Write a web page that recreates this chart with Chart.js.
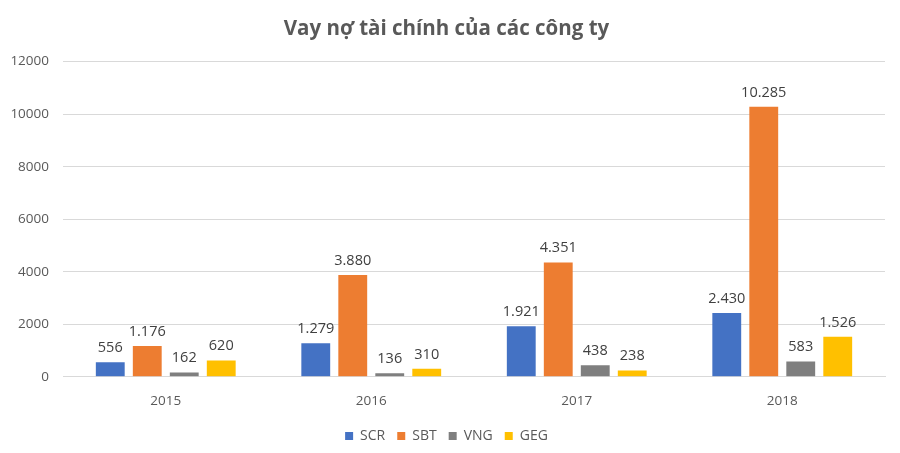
<!DOCTYPE html>
<html>
<head>
<meta charset="utf-8">
<script src="https://cdn.jsdelivr.net/npm/chart.js@4/dist/chart.umd.min.js"></script>
<style>
  html, body { margin: 0; padding: 0; background: #fff; }
  #wrap { width: 900px; height: 453px; }
</style>
</head>
<body>
<div id="wrap"><canvas id="c"></canvas></div>
<script>
const years = ['2015', '2016', '2017', '2018'];
const scr = [556, 1279, 1921, 2430];
const sbt = [1176, 3880, 4351, 10285];
const vng = [162, 136, 438, 583];
const geg = [620, 310, 238, 1526];
const yTicks = [0, 2000, 4000, 6000, 8000, 10000, 12000];

const FONT = '"Open Sans", "DejaVu Sans", sans-serif';
const TXT = '#595959';

// value labels above bars, Excel style (1.176)
const barLabels = {
    id: 'barLabels',
    afterDatasetsDraw(chart) {
        const ctx = chart.ctx;
        ctx.save();
        ctx.font = '14.5px ' + FONT;
        ctx.fillStyle = '#404040';
        ctx.textAlign = 'center';
        ctx.textBaseline = 'bottom';
        chart.data.datasets.forEach((ds, i) => {
            chart.getDatasetMeta(i).data.forEach((bar, j) => {
                ctx.fillText(ds.data[j].toLocaleString('de-DE'), bar.x, bar.y - 7);
            });
        });
        ctx.restore();
    }
};

const ds = (label, data, color) => ({
    label, data, backgroundColor: color,
    barPercentage: 0.78, categoryPercentage: 0.72
});

new Chart(document.getElementById('c'), {
    type: 'bar',
    data: {
        labels: years,
        datasets: [
            ds('SCR', scr, '#4472C4'),
            ds('SBT', sbt, '#ED7D31'),
            ds('VNG', vng, '#7F7F7F'),
            ds('GEG', geg, '#FFC000'),
        ],
    },
    options: {
        responsive: true,
        maintainAspectRatio: false,
        animation: false,
        layout: { padding: { left: 8, right: 15, top: 13, bottom: 0 } },
        plugins: {
            title: {
                display: true,
                text: 'Vay nợ tài chính của các công ty',
                color: TXT,
                font: { family: FONT, size: 20.5, weight: 'bold' },
                padding: { top: 4, bottom: 20 },
            },
            legend: {
                position: 'bottom',
                labels: {
                    color: TXT,
                    font: { family: FONT, size: 14 },
                    boxWidth: 8, boxHeight: 8,
                    padding: 12,
                },
            },
            tooltip: { enabled: false },
        },
        scales: {
            x: {
                grid: { display: false },
                border: { color: '#D9D9D9' },
                ticks: { color: TXT, font: { family: FONT, size: 13.5 }, padding: 8 },
            },
            y: {
                min: 0, max: 12000,
                afterBuildTicks(axis) { axis.ticks = yTicks.map(v => ({ value: v })); },
                afterFit(axis) { axis.width = 55; },
                grid: { color: '#D9D9D9', drawTicks: false },
                border: { display: false },
                ticks: {
                    color: TXT, font: { family: FONT, size: 13.5 }, padding: 14,
                    callback: v => String(v),
                },
            },
        },
    },
    plugins: [barLabels],
});
</script>
</body>
</html>
